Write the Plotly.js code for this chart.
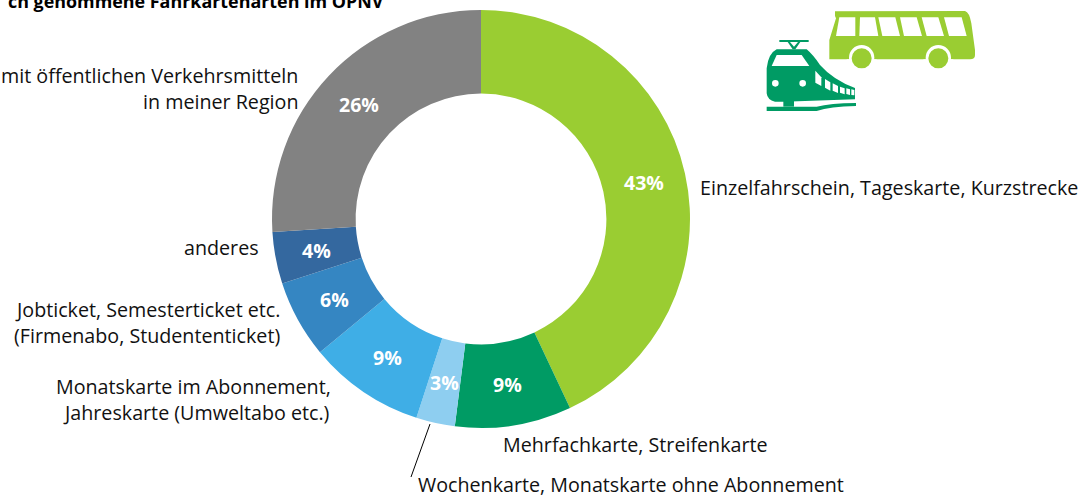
<!DOCTYPE html>
<html><head><meta charset="utf-8">
<script src="https://cdn.plot.ly/plotly-3.0.1.min.js"></script>
<style>html,body{margin:0;padding:0;background:#fff;overflow:hidden}</style>
</head><body><div id="chart" style="width:1092px;height:498px"></div>
<script>
const categories = ["Einzelfahrschein, Tageskarte, Kurzstrecke","Mehrfachkarte, Streifenkarte","Wochenkarte, Monatskarte ohne Abonnement","Monatskarte im Abonnement, Jahreskarte (Umweltabo etc.)","Jobticket, Semesterticket etc. (Firmenabo, Studententicket)","anderes","mit öffentlichen Verkehrsmitteln in meiner Region"];
const values = [43,9,3,9,6,4,26];
const colors = ["#9ACD32","#009B64","#8ECEF0","#3FAEE6","#3586C2","#34689F","#828282"];
const W=1092,H=498,FONT="'Open Sans', 'Noto Sans', sans-serif";
const GREEN="#9ACD32",DARK="#009B64";
const CX=481,CY=219,R=209,HOLE=0.6;

function px(x){return x/W} function py(y){return 1-y/H}
function zp(points){
  return points.replace(/(-?[\d.]+),(-?[\d.]+)/g,(m,a,b)=>{
    return px(750+a/3).toFixed(5)+","+py(b/3).toFixed(5);
  });
}
function path(d,fill){return {type:"path",xref:"paper",yref:"paper",path:zp(d),fillcolor:fill,line:{width:0},layer:"above"}}
function circ(cx,cy,r,fill){return {type:"circle",xref:"paper",yref:"paper",x0:px(750+(cx-r)/3),x1:px(750+(cx+r)/3),y0:py((cy+r)/3),y1:py((cy-r)/3),fillcolor:fill,line:{width:0},layer:"above"}}
function seg(x0,y0,x1,y1){return {type:"line",xref:"paper",yref:"paper",x0:px(x0),y0:py(y0),x1:px(x1),y1:py(y1),line:{color:"#000",width:1},layer:"above"}}

const shapes=[
 path("M255,34 L645,33 Q658,36 664,70 L675,150 L675,165 Q675,178 660,178 L238,178 L238,120 L258,55 L255,48 Z",GREEN),
 path("M268,52 L316,52 L316,108 L258,108 Z","#fff"),
 path("M330,52 L375,52 L385,108 L328,108 Z","#fff"),
 path("M385,52 L436,52 L450,108 L397,108 Z","#fff"),
 path("M450,52 L500,52 L516,108 L462,108 Z","#fff"),
 path("M515,52 L565,52 L582,108 L530,108 Z","#fff"),
 path("M582,52 L635,52 L650,108 L597,108 Z","#fff"),
 circ(335,173,38,"#fff"),circ(565,173,38,"#fff"),
 path("M290,178 L380,178 L380,215 L290,215 Z","#fff"),
 path("M520,178 L610,178 L610,215 L520,215 Z","#fff"),
 circ(335,175,30,GREEN),circ(565,175,30,GREEN),
 path("M88,120 L176,120 L176,126 L88,126 Z",DARK),
 path("M113,126 L120,126 L132,140 L144,126 L151,126 L136,148 L128,148 Z",DARK),
 path("M80,148 L170,148 Q190,165 210,195 Q250,240 315,264 L315,298 L100,305 L75,305 Q52,300 50,280 L50,205 Q55,160 80,148 Z",DARK),
 path("M65,198 L80,165 L155,165 L178,198 Z","#fff"),
 path("M196,212 L214,232 L214,258 L196,248 Z","#fff"),
 path("M225,237 L241,247 L241,272 L225,263 Z","#fff"),
 path("M248,250 L264,258 L264,279 L248,272 Z","#fff"),
 path("M270,260 L284,265 L284,283 L270,278 Z","#fff"),
 path("M289,265 L300,268 L300,285 L289,282 Z","#fff"),
 path("M304,268 L313,270 L313,286 L304,285 Z","#fff"),
 circ(76,250,10,"#fff"),circ(158,250,10,"#fff"),
 path("M50,320 L200,320 Q240,310 318,309 L318,318 Q240,320 200,333 L50,333 Z",DARK),
 path("M100,303 L132,303 L132,320 L100,320 Z",DARK),
 seg(430,424,411,477)
];

function label(text,x,y,anchor,extra){return Object.assign({text,xref:"paper",yref:"paper",x:px(x),y:py(y),xanchor:anchor,yanchor:"middle",showarrow:false,align:anchor,font:{family:FONT,size:19.7,color:"#111"}},extra||{})}
const annotations=[
 label("<b>ch genommene Fahrkartenarten im ÖPNV</b>",6,1,"left",{font:{family:FONT,size:17.9,color:"#000"}}),
 label("mit öffentlichen Verkehrsmitteln",300,75.5,"right"),
 label("in meiner Region",300,101.5,"right"),
 label("anderes",261,247.5,"right"),
 label("Jobticket, Semesterticket etc.",282,309.5,"right"),
 label("(Firmenabo, Studententicket)",282,335.5,"right"),
 label("Monatskarte im Abonnement,",333,386.5,"right"),
 label("Jahreskarte (Umweltabo etc.)",332,412.5,"right"),
 label("Einzelfahrschein, Tageskarte, Kurzstrecke",698,187.5,"left"),
 label("Mehrfachkarte, Streifenkarte",501,444.5,"left"),
 label("Wochenkarte, Monatskarte ohne Abonnement",416,484.5,"left")
];
// percentage labels sit at the middle of the ring, at each slice's mid-angle
const total=values.reduce((a,b)=>a+b,0);
let cum=0;
values.forEach(v=>{
  const a=(cum+v/2)/total*2*Math.PI; cum+=v;
  const r=R*(1+HOLE)/2;
  annotations.push(label("<b>"+v+"%</b>",CX+r*Math.sin(a),CY-r*Math.cos(a),"center",{font:{family:FONT,size:19.5,color:"#fff"}}));
});
const data=[{type:"pie",labels:categories,values:values,sort:false,direction:"clockwise",rotation:0,hole:HOLE,
 marker:{colors:colors,line:{width:0}},textinfo:"none",
 domain:{x:[(CX-R)/W,(CX+R)/W],y:[1-(CY+R)/H,1-(CY-R)/H]},showlegend:false,hoverinfo:"label+percent"}];
Plotly.newPlot("chart",data,{width:W,height:H,margin:{l:0,r:0,t:0,b:0},paper_bgcolor:"#fff",showlegend:false,shapes,annotations},{displayModeBar:false,staticPlot:true});
</script></body></html>
